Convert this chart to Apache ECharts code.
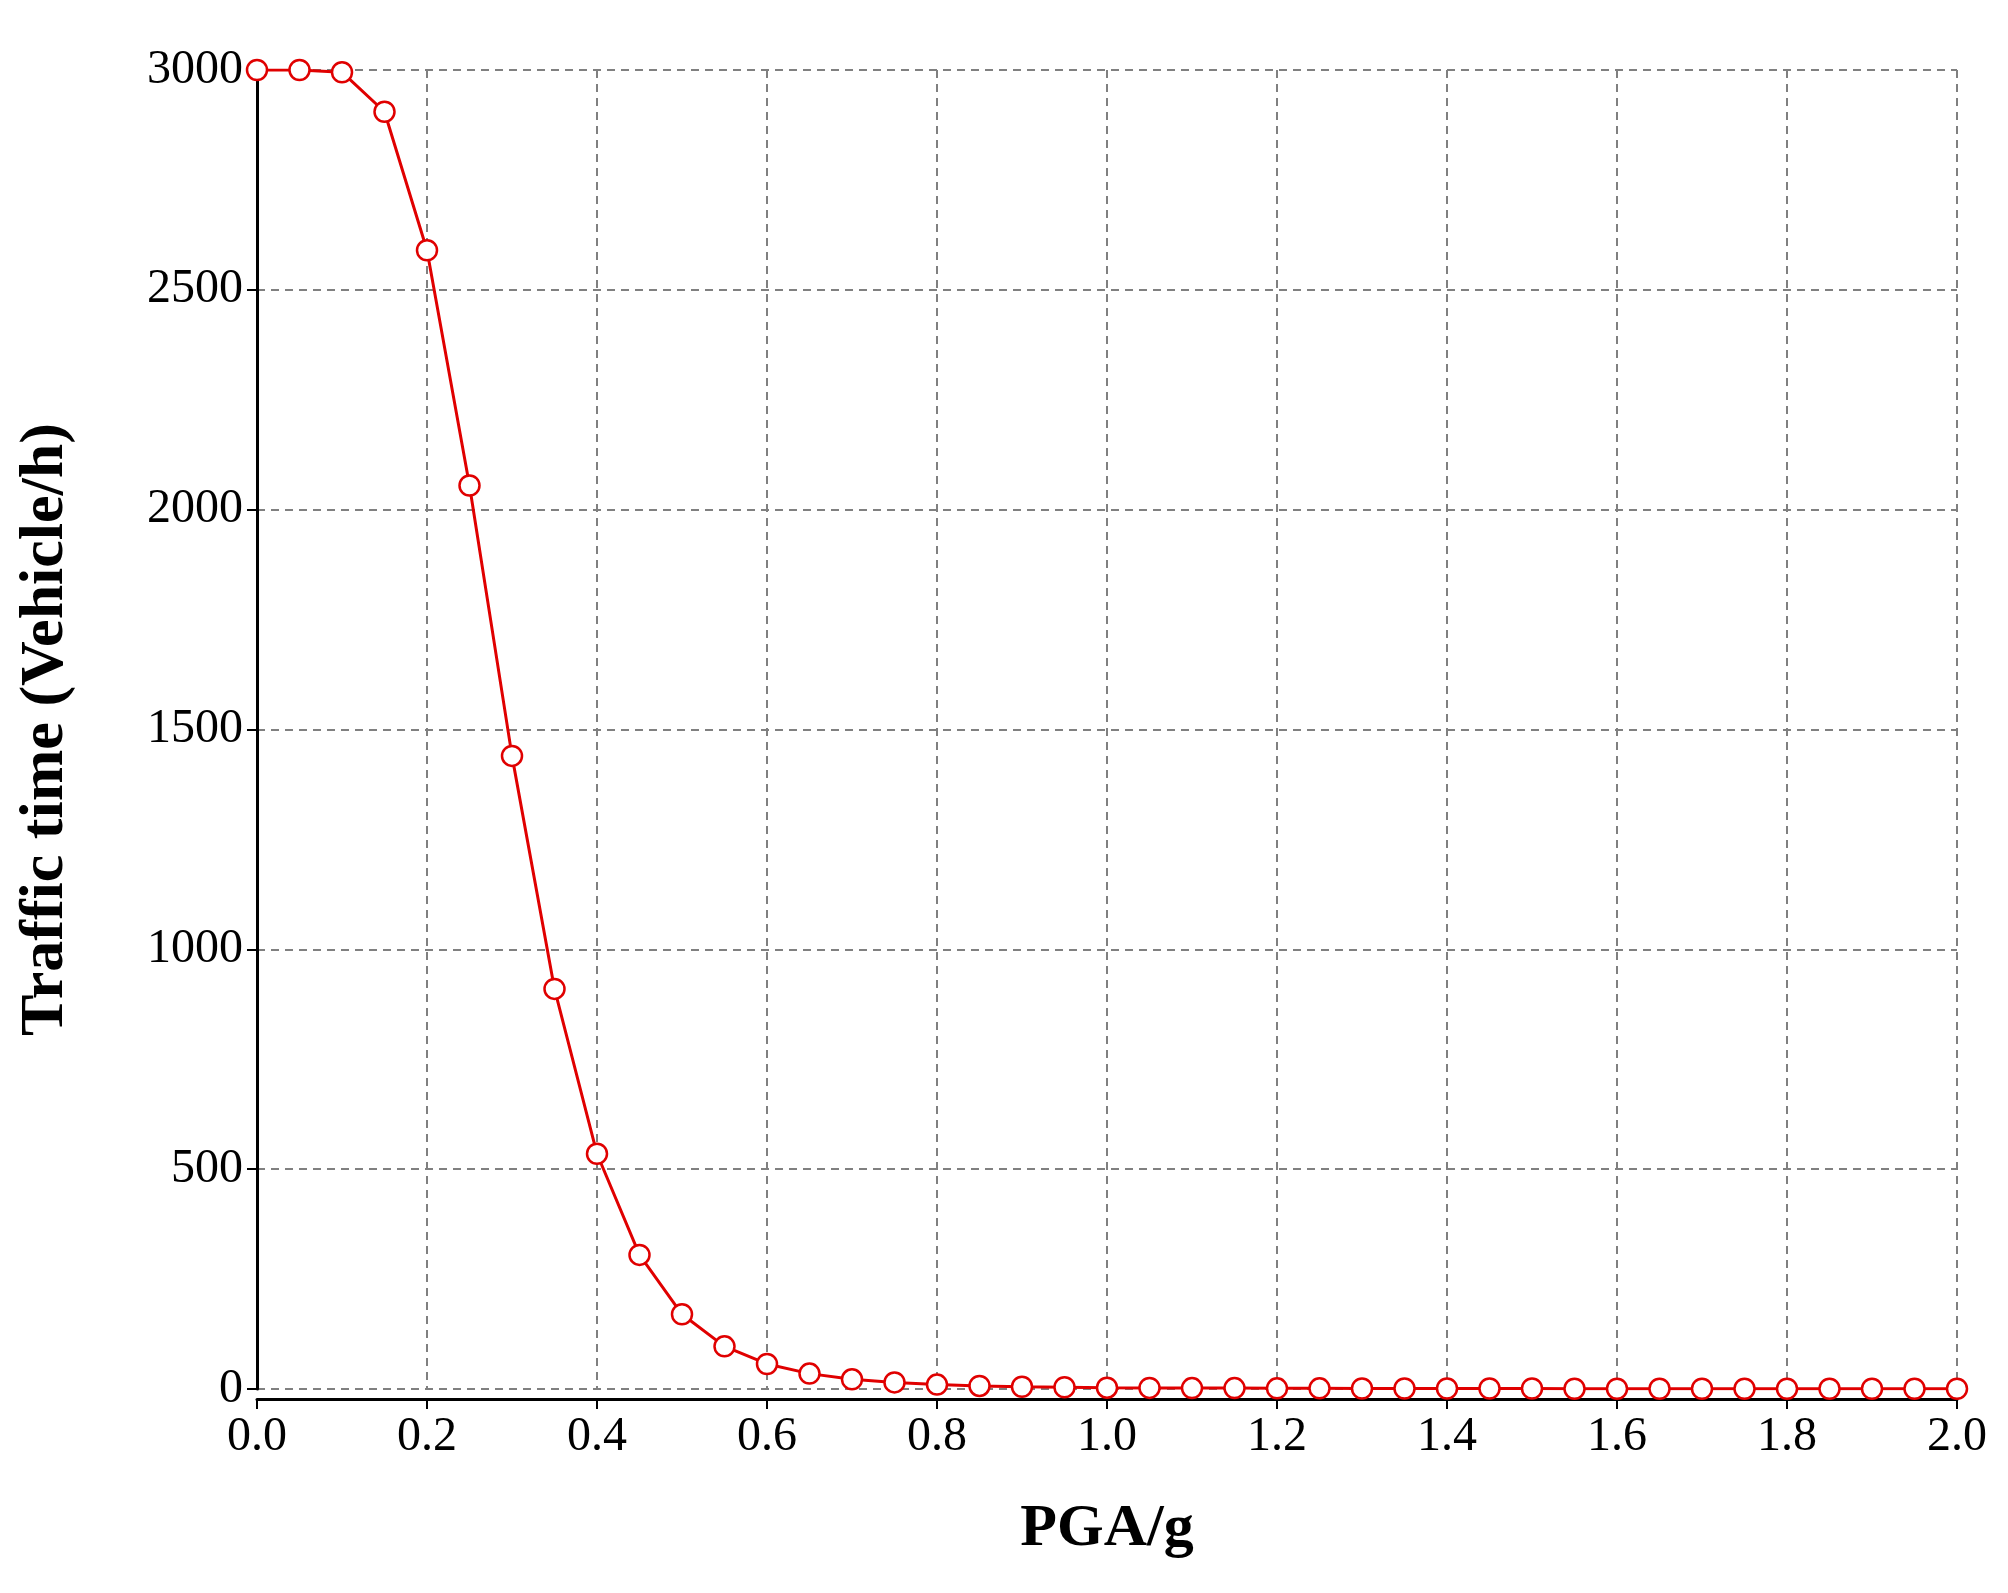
<!DOCTYPE html><html><head><meta charset="utf-8"><script src="https://cdn.jsdelivr.net/npm/echarts@6/dist/echarts.min.js"></script></head><body style="margin:0;background:#fff"><div id="c" style="width:2008px;height:1593px"></div><script>
const pga=[0,0.05,0.1,0.15,0.2,0.25,0.3,0.35,0.4,0.45,0.5,0.55,0.6,0.65,0.7,0.75,0.8,0.85,0.9,0.95,1.0,1.05,1.1,1.15,1.2,1.25,1.3,1.35,1.4,1.45,1.5,1.55,1.6,1.65,1.7,1.75,1.8,1.85,1.9,1.95,2.0];
const traffic=[3000,3000,2995,2905,2590,2055,1440,910,535,305,170,97,57,35,22,15,10,7,5,4,3,2.5,2,2,1.5,1.5,1,1,1,1,1,0.5,0.5,0.5,0.5,0.5,0.5,0.5,0.5,0.5,0.5];
const ch=echarts.init(document.getElementById('c'));
const font='Liberation Serif';
const split={show:true,lineStyle:{color:'#808080',type:[8,6],width:2}};
ch.setOption({animation:false,
grid:{left:257,right:51,top:70,bottom:204},
xAxis:{type:'value',min:0,max:2,interval:0.2,offset:10,name:'PGA/g',nameLocation:'middle',nameGap:100,
 nameTextStyle:{fontFamily:font,fontWeight:'bold',fontSize:60,color:'#000'},
 axisLine:{onZero:false,lineStyle:{color:'#000',width:3}},axisTick:{show:true,length:10,lineStyle:{color:'#000',width:2}},
 axisLabel:{fontFamily:font,fontSize:48,color:'#000',margin:14,formatter:v=>v.toFixed(1)},splitLine:split},
yAxis:{type:'value',min:0,max:3000,interval:500,name:'Traffic time (Vehicle/h)',nameLocation:'middle',nameGap:180,
 nameTextStyle:{fontFamily:font,fontWeight:'bold',fontSize:62,color:'#000'},
 axisLine:{show:true,lineStyle:{color:'#000',width:3}},axisTick:{show:true,length:10,lineStyle:{color:'#000',width:2}},
 axisLabel:{fontFamily:font,fontSize:48,color:'#000',margin:14,formatter:v=>String(v)},splitLine:split},
series:[{type:'line',data:pga.map((x,i)=>[x,traffic[i]]),symbol:'circle',symbolSize:20,
 lineStyle:{color:'#e00000',width:3},itemStyle:{color:'#fff',borderColor:'#e00000',borderWidth:2.5}}]
});
</script></body></html>
